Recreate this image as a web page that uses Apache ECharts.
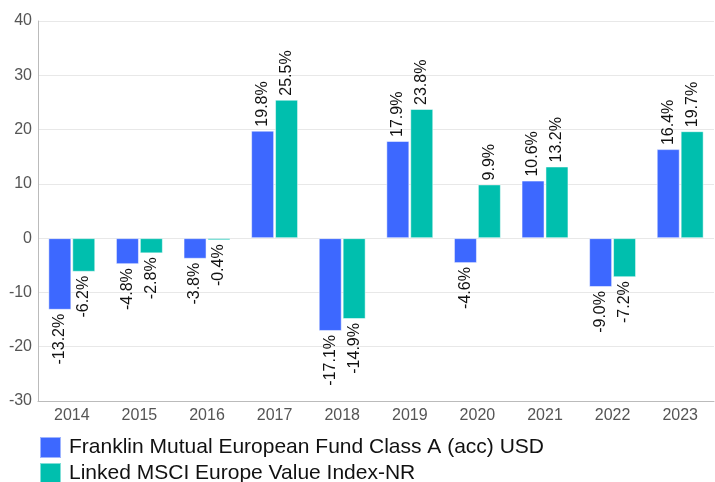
<!DOCTYPE html>
<html>
<head>
<meta charset="utf-8">
<script src="https://cdn.jsdelivr.net/npm/echarts@6/dist/echarts.min.js"></script>
<style>
  html, body { margin: 0; padding: 0; background: #fff; }
  #main { width: 715px; height: 482px; }
</style>
</head>
<body>
<div id="main"></div>
<script>
// data
var years = ['2014', '2015', '2016', '2017', '2018', '2019', '2020', '2021', '2022', '2023'];
var fundName = 'Franklin Mutual European Fund Class A (acc) USD';
var indexName = 'Linked MSCI Europe Value Index-NR';
var fundValues = [-13.2, -4.8, -3.8, 19.8, -17.1, 17.9, -4.6, 10.6, -9.0, 16.4];
var indexValues = [-6.2, -2.8, -0.4, 25.5, -14.9, 23.8, 9.9, 13.2, -7.2, 19.7];

var chart = echarts.init(document.getElementById('main'));

// each bar gets its label above (positive) or below (negative), rotated
function withLabels(values) {
  return values.map(function (v) {
    return {
      value: v,
      label: {
        position: v >= 0 ? 'top' : 'bottom',
        align: v >= 0 ? 'left' : 'right'
      }
    };
  });
}

var labelStyle = {
  show: true,
  rotate: 90,
  verticalAlign: 'middle',
  distance: 4,
  color: '#111',
  fontSize: 16,
  fontFamily: 'Liberation Sans, Arial, sans-serif',
  formatter: function (p) { return p.value.toFixed(1) + '%'; }
};

function legendFor(name, top) {
  return {
    left: 34,
    top: top,
    padding: 5,
    itemWidth: 21,
    itemHeight: 21,
    icon: 'rect',
    textStyle: { fontSize: 21, lineHeight: 21, color: '#111', padding: [0, 0, 0, 3] },
    data: [name]
  };
}

var option = {
  animation: false,
  textStyle: { fontFamily: 'Liberation Sans, Arial, sans-serif' },
  grid: { left: 38, right: 1, top: 21, bottom: 81, containLabel: false },
  legend: [legendFor(fundName, 431), legendFor(indexName, 457)],
  xAxis: {
    type: 'category',
    data: years,
    axisLine: { onZero: false, lineStyle: { color: '#bbb' } },
    axisTick: { show: false },
    axisLabel: { color: '#555', fontSize: 16, margin: 7 }
  },
  yAxis: {
    type: 'value',
    min: -30,
    max: 40,
    interval: 10,
    axisLine: { show: true, lineStyle: { color: '#bbb' } },
    axisTick: { show: false },
    splitLine: { lineStyle: { color: '#e8e8e8' } },
    axisLabel: { color: '#555', fontSize: 16, margin: 6 }
  },
  series: [
    {
      name: fundName,
      type: 'bar',
      data: withLabels(fundValues),
      barWidth: 23,
      barGap: '4%',
      itemStyle: { color: '#3d68ff', borderColor: 'rgba(255,255,255,0.5)', borderWidth: 1 },
      label: labelStyle
    },
    {
      name: indexName,
      type: 'bar',
      data: withLabels(indexValues),
      barWidth: 23,
      itemStyle: { color: '#00bfae', borderColor: 'rgba(255,255,255,0.5)', borderWidth: 1 },
      label: labelStyle
    }
  ]
};

chart.setOption(option);
</script>
</body>
</html>
